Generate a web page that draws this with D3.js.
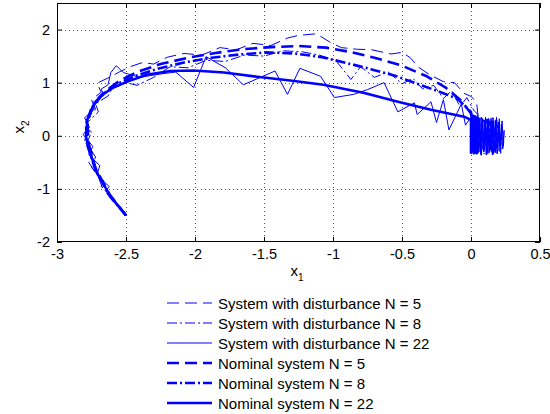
<!DOCTYPE html>
<html>
<head>
<meta charset="utf-8">
<script src="https://cdn.jsdelivr.net/npm/d3@7"></script>
<style>
  html, body { margin: 0; padding: 0; background: #fff; }
  svg { display: block; }
  text { font-family: "Liberation Sans", Arial, sans-serif; fill: #000; }
</style>
</head>
<body>
<div id="chart"></div>
<script>
// Phase-plane trajectories (x1, x2) for the nominal and disturbed systems.
const xTicks = [-3, -2.5, -2, -1.5, -1, -0.5, 0, 0.5];
const yTicks = [-2, -1, 0, 1, 2];

const legendLabels = [
  "System with disturbance N = 5",
  "System with disturbance N = 8",
  "System with disturbance N = 22",
  "Nominal system N = 5",
  "Nominal system N = 8",
  "Nominal system N = 22"
];

// System with disturbance, N = 5
const dist5X = [-2.50,-2.60,-2.67,-2.70,-2.77,-2.74,-2.80,-2.76,-2.79,-2.72,-2.75,-2.68,-2.71,-2.62,-2.55,-2.47,-2.38,-2.30,-2.20,-2.08,-1.95,-1.82,-1.70,-1.58,-1.45,-1.33,-1.25,-1.12,-1.02,-0.94,-0.83,-0.72,-0.58,-0.50,-0.44,-0.38,-0.30,-0.20,-0.12,-0.05,0.00,0.04,
  0.050,0.065,0.075,0.090,0.100,0.115,0.125,0.140,0.150,0.165,0.175,0.190,0.200,0.215,0.205,0.180,0.160,0.135,0.110,0.085,0.060,0.080,0.120,0.170];
const dist5Y = [-1.50,-1.22,-0.98,-0.78,-0.50,-0.32,-0.08,0.12,0.30,0.50,0.68,0.82,0.99,1.10,1.20,1.30,1.38,1.35,1.48,1.55,1.52,1.66,1.62,1.74,1.70,1.84,1.89,1.92,1.76,1.66,1.63,1.62,1.54,1.57,1.47,1.29,1.15,1.02,1.00,0.80,0.74,0.64,
  0.40,-0.30,0.35,-0.28,0.30,-0.35,0.33,-0.26,0.29,-0.31,0.24,-0.29,0.20,-0.18,0.25,-0.33,0.28,-0.30,0.32,-0.25,0.15,-0.10,0.12,-0.05];

// System with disturbance, N = 8
const dist8X = [-2.50,-2.59,-2.68,-2.66,-2.75,-2.72,-2.79,-2.75,-2.78,-2.70,-2.72,-2.63,-2.60,-2.50,-2.42,-2.30,-2.18,-2.05,-1.92,-1.78,-1.64,-1.50,-1.36,-1.22,-1.10,-0.98,-0.87,-0.80,-0.70,-0.60,-0.50,-0.42,-0.35,-0.27,-0.20,-0.14,-0.08,-0.03,0.02,0.05,
  0.045,0.058,0.068,0.082,0.094,0.106,0.118,0.130,0.142,0.154,0.166,0.178,0.190,0.202,0.214,0.226,0.210,0.186,0.162,0.138,0.114,0.090,0.066,0.100,0.150];
const dist8Y = [-1.50,-1.20,-0.95,-0.85,-0.60,-0.40,-0.15,0.05,0.25,0.45,0.60,0.75,0.90,1.00,0.95,1.10,1.30,1.28,1.42,1.40,1.52,1.50,1.60,1.58,1.52,1.42,1.06,1.30,1.10,1.20,0.98,1.08,0.88,0.95,0.70,0.85,0.55,0.72,0.48,0.40,
  -0.30,0.33,-0.26,0.32,-0.34,0.27,-0.32,0.31,-0.29,0.34,-0.27,0.29,-0.33,0.25,-0.28,0.18,-0.22,0.30,-0.35,0.28,-0.31,0.33,-0.24,0.10,-0.08];

// System with disturbance, N = 22
const dist22X = [-2.50,-2.57,-2.65,-2.62,-2.71,-2.69,-2.77,-2.74,-2.81,-2.77,-2.80,-2.73,-2.74,-2.66,-2.68,-2.63,-2.61,-2.57,-2.52,-2.40,-2.26,-2.14,-2.01,-1.92,-1.78,-1.65,-1.42,-1.33,-1.24,-1.09,-0.99,-0.85,-0.75,-0.63,-0.53,-0.41,-0.39,-0.29,-0.25,-0.20,-0.16,-0.07,-0.04,0.00,
  0.04,0.05,0.06,0.07,0.08,0.09,0.10,0.11,0.12,0.13,0.14,0.15,0.16,0.17,0.18,0.19,0.20,0.21,0.22,0.23,0.24,
  0.235,0.225,0.215,0.205,0.195,0.185,0.175,0.165,0.155,0.145,0.135,0.125,0.115,0.105,0.095,0.085,0.075,0.065,0.055,0.045,
  0.07,0.12,0.16,0.11];
const dist22Y = [-1.50,-1.27,-1.03,-0.96,-0.74,-0.56,-0.36,-0.20,0.02,0.18,0.34,0.50,0.63,0.76,0.88,0.96,1.19,1.32,1.19,1.10,1.16,1.20,0.91,1.49,1.28,0.96,1.22,0.78,1.27,1.12,0.72,0.78,0.87,1.00,0.45,0.62,0.40,0.64,0.25,0.68,0.11,0.60,0.20,0.35,
  0.36,-0.33,0.30,-0.35,0.33,-0.30,0.28,-0.36,0.31,-0.33,0.27,-0.31,0.34,-0.28,0.30,-0.34,0.26,-0.30,0.22,-0.25,0.10,
  -0.20,0.28,-0.33,0.32,-0.29,0.35,-0.32,0.29,-0.36,0.33,-0.27,0.30,-0.34,0.35,-0.30,0.31,-0.37,0.34,-0.28,0.38,
  -0.20,0.20,-0.15,0.05];

// Nominal system, N = 5
const nom5X = [-2.50,-2.62,-2.72,-2.77,-2.78,-2.74,-2.66,-2.55,-2.42,-2.25,-2.05,-1.85,-1.65,-1.45,-1.25,-1.05,-0.88,-0.70,-0.50,-0.32,-0.18,-0.07,0.00,
  0.02,0.01,0.03,0.02,0.04,0.03,0.02];
const nom5Y = [-1.50,-1.10,-0.62,-0.15,0.25,0.55,0.82,1.03,1.20,1.35,1.47,1.56,1.63,1.67,1.69,1.66,1.58,1.47,1.32,1.12,0.90,0.66,0.42,
  -0.30,0.34,-0.31,0.36,-0.28,0.30,0.00];

// Nominal system, N = 8
const nom8X = [-2.50,-2.62,-2.72,-2.78,-2.79,-2.75,-2.67,-2.56,-2.43,-2.27,-2.08,-1.88,-1.68,-1.48,-1.28,-1.08,-0.90,-0.72,-0.55,-0.38,-0.22,-0.10,0.00,
  0.03,0.01,0.04,0.02,0.05,0.03,0.02];
const nom8Y = [-1.50,-1.12,-0.65,-0.18,0.22,0.52,0.78,0.98,1.13,1.26,1.38,1.47,1.53,1.57,1.55,1.48,1.37,1.25,1.13,0.97,0.82,0.70,0.45,
  -0.32,0.35,-0.33,0.37,-0.30,0.32,0.02];

// Nominal system, N = 22
const nom22X = [-2.50,-2.61,-2.71,-2.76,-2.79,-2.78,-2.74,-2.69,-2.59,-2.49,-2.35,-2.18,-2.01,-1.79,-1.55,-1.31,-1.07,-0.78,-0.53,-0.29,-0.05,0.00,
  0.00,0.01,0.02,0.03,0.04,0.05,0.04,0.03,0.02,0.01];
const nom22Y = [-1.50,-1.15,-0.70,-0.32,-0.02,0.30,0.55,0.74,0.91,1.02,1.15,1.22,1.23,1.19,1.11,1.04,0.96,0.81,0.64,0.49,0.36,0.30,
  -0.32,0.38,-0.33,0.36,-0.31,0.34,-0.30,0.30,-0.28,0.05];

const seriesData = [
  [dist5X, dist5Y], [dist8X, dist8Y], [dist22X, dist22Y],
  [nom5X, nom5Y], [nom8X, nom8Y], [nom22X, nom22Y]
];

// Line styles: thin for disturbed, thick for nominal; dashed / dash-dot / solid by horizon.
const styles = [
  { w: 1,   dash: "12,6" },
  { w: 1,   dash: "10,3,2,3" },
  { w: 1,   dash: null },
  { w: 2.6, dash: "12,6" },
  { w: 2.6, dash: "10,3,2,3" },
  { w: 2.6, dash: null }
];

const W = 550, H = 414;
const plot = { left: 57, right: 540, top: 3, bottom: 242 };

const svg = d3.select("#chart").append("svg")
  .attr("width", W).attr("height", H);

const x = d3.scaleLinear().domain([-3, 0.5]).range([plot.left, plot.right]);
const y = d3.scaleLinear().domain([-2, 2.5]).range([plot.bottom, plot.top]);

// dotted grid
const grid = svg.append("g").attr("stroke", "#000").attr("stroke-width", 0.8)
  .attr("stroke-dasharray", "1,3").attr("opacity", 0.85);
grid.selectAll("line.gx").data(xTicks.slice(1, -1)).join("line")
  .attr("x1", d => Math.round(x(d)) + 0.5).attr("x2", d => Math.round(x(d)) + 0.5)
  .attr("y1", plot.top).attr("y2", plot.bottom);
grid.selectAll("line.gy").data(yTicks.slice(1)).join("line")
  .attr("y1", d => Math.round(y(d)) + 0.5).attr("y2", d => Math.round(y(d)) + 0.5)
  .attr("x1", plot.left).attr("x2", plot.right);

// trajectories
svg.append("clipPath").attr("id", "clip").append("rect")
  .attr("x", plot.left).attr("y", plot.top)
  .attr("width", plot.right - plot.left).attr("height", plot.bottom - plot.top);

const line = d3.line().x(d => x(d[0])).y(d => y(d[1]));
const traj = svg.append("g").attr("clip-path", "url(#clip)");
seriesData.forEach((s, i) => {
  const pts = s[0].map((v, k) => [v, s[1][k]]);
  traj.append("path")
    .attr("d", line(pts))
    .attr("fill", "none")
    .attr("stroke", "#0000ff")
    .attr("stroke-width", styles[i].w)
    .attr("stroke-linejoin", "round")
    .attr("stroke-dasharray", styles[i].dash);
});

// axes with inward ticks on all four sides
const tickFmt = d => String(d);
function styleAxis(g) {
  g.selectAll("path.domain").remove();
  g.selectAll("line").attr("stroke", "#000");
  g.selectAll("text").attr("font-size", 14.5);
}
svg.append("g").attr("transform", `translate(0,${plot.bottom})`)
  .call(d3.axisBottom(x).tickValues(xTicks).tickSize(-5).tickPadding(7).tickFormat(tickFmt))
  .call(styleAxis);
svg.append("g").attr("transform", `translate(0,${plot.top})`)
  .call(d3.axisTop(x).tickValues(xTicks).tickSize(-5).tickFormat(""))
  .call(styleAxis);
svg.append("g").attr("transform", `translate(${plot.left},0)`)
  .call(d3.axisLeft(y).tickValues(yTicks).tickSize(-5).tickPadding(7).tickFormat(tickFmt))
  .call(styleAxis);
svg.append("g").attr("transform", `translate(${plot.right},0)`)
  .call(d3.axisRight(y).tickValues(yTicks).tickSize(-5).tickFormat(""))
  .call(styleAxis);

svg.append("rect")
  .attr("x", plot.left + 0.5).attr("y", plot.top + 0.5)
  .attr("width", plot.right - plot.left - 1).attr("height", plot.bottom - plot.top - 1)
  .attr("fill", "none").attr("stroke", "#000").attr("stroke-width", 1);

// axis labels
const xl = svg.append("text").attr("x", 297).attr("y", 276)
  .attr("text-anchor", "middle").attr("font-size", 15);
xl.append("tspan").text("x");
xl.append("tspan").attr("font-size", 10).attr("dy", 5).text("1");

const yl = svg.append("text").attr("transform", "translate(24,127) rotate(-90)")
  .attr("text-anchor", "middle").attr("font-size", 15);
yl.append("tspan").text("x");
yl.append("tspan").attr("font-size", 10).attr("dy", 5).text("2");

// legend
const legend = svg.append("g");
legendLabels.forEach((lab, i) => {
  const yy = 303 + i * 20;
  legend.append("line")
    .attr("x1", 167).attr("x2", 212).attr("y1", yy).attr("y2", yy)
    .attr("stroke", "#0000ff")
    .attr("stroke-width", styles[i].w)
    .attr("stroke-dasharray", styles[i].dash);
  legend.append("text").attr("x", 218).attr("y", yy + 5.5)
    .attr("font-size", 15).text(lab);
});
</script>
</body>
</html>
